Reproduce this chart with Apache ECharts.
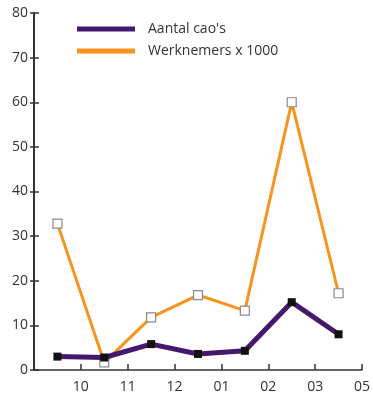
<!DOCTYPE html>
<html><head><meta charset="utf-8">
<script src="https://cdn.jsdelivr.net/npm/echarts@6/dist/echarts.min.js"></script>
<style>html,body{margin:0;padding:0;background:#fff}#c{width:373px;height:400px}</style>
</head><body><div id="c"></div>
<script>
const periods = ['p1','p2','p3','p4','p5','p6','p7'];
const tickLabels = ['10','11','12','01','02','03','05'];
const aantalCaos = [3.0, 2.8, 5.8, 3.6, 4.3, 15.2, 8.0];
const werknemers = [32.8, 1.7, 11.8, 16.8, 13.3, 60.0, 17.2];
const yTicks = [0,10,20,30,40,50,60,70,80];

const FONT = '"Open Sans", "Noto Sans", sans-serif';
const PURPLE = '#45186e', ORANGE = '#f7941d';
const chart = echarts.init(document.getElementById('c'));
chart.setOption({
  animation: false,
  textStyle: {fontFamily: FONT},
  grid: {left: 34, right: 2, top: 13, bottom: 30},
  legend: {
    orient: 'vertical', left: 72, top: 17,
    itemWidth: 58, itemHeight: 5, itemGap: 8, icon: 'rect',
    textStyle: {fontFamily: FONT, fontSize: 14, color: '#333', padding: [0,0,0,8]},
    data: [
      {name: "Aantal cao's", itemStyle: {color: PURPLE, borderWidth: 0}},
      {name: 'Werknemers x 1000', itemStyle: {color: ORANGE, borderWidth: 0}}
    ]
  },
  xAxis: [
    {type: 'category', data: periods, boundaryGap: true,
     axisLine: {show: false}, axisTick: {show: false}, axisLabel: {show: false}},
    {type: 'value', min: 0, max: periods.length, interval: 1, position: 'bottom',
     axisLine: {show: true, lineStyle: {color: '#333', width: 1.5}},
     axisTick: {show: true, inside: true, length: 6, lineStyle: {color: '#333', width: 1.5}},
     splitLine: {show: false},
     axisLabel: {fontSize: 14, color: '#333', margin: 10, fontFamily: FONT,
       formatter: v => (v >= 1 && v <= tickLabels.length) ? tickLabels[v - 1] : ''}}
  ],
  yAxis: [
    {type: 'value', min: 0, max: 80, interval: 10,
     axisLine: {show: true, lineStyle: {color: '#333', width: 2}},
     axisTick: {show: true, length: 4, lineStyle: {color: '#333', width: 1.5}},
     splitLine: {show: false},
     axisLabel: {fontSize: 14, color: '#333', margin: 6, fontFamily: FONT,
       formatter: v => yTicks.includes(v) ? String(v) : ''}},
    {type: 'value', min: 0, max: 80, interval: 10, position: 'left',
     axisLine: {show: false},
     axisTick: {show: true, inside: true, length: 5, lineStyle: {color: '#333', width: 1.5}},
     splitLine: {show: false}, axisLabel: {show: false}}
  ],
  series: [
    {name: 'Werknemers x 1000', type: 'line', data: werknemers, xAxisIndex: 0, yAxisIndex: 0,
     color: ORANGE, lineStyle: {width: 3, color: ORANGE},
     symbol: 'rect', symbolSize: 9,
     itemStyle: {color: '#ffffff', borderColor: '#8a8a8a', borderWidth: 1.2}, z: 2},
    {name: "Aantal cao's", type: 'line', data: aantalCaos, xAxisIndex: 0, yAxisIndex: 0,
     color: PURPLE, lineStyle: {width: 5, color: PURPLE},
     symbol: 'rect', symbolSize: 8,
     itemStyle: {color: '#111111', borderColor: '#111111', borderWidth: 0}, z: 3}
  ]
});
</script></body></html>
